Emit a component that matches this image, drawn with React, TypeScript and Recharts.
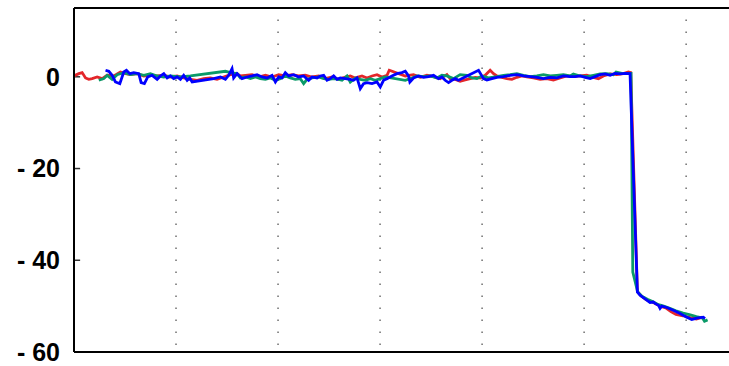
import { LineChart, Line, XAxis, YAxis, ReferenceLine } from "recharts"

// time (arbitrary units, grid every 100) vs. level
const redTrace: [number, number][] = [
  [0, 0.2], [4.7, 0.69], [8.0, 0.91], [11.3, -0.25], [14.5, -0.55], [17.8, -0.4], [22.7, -0.04], [27.6, -0.4],
  [32.5, 0.33], [39.0, 0.18], [45.5, 1.05], [50.4, 0.69], [55.3, 0.47], [61.9, 0.69], [68.4, 0.18], [74.9, 0.33],
  [81.5, 0.18], [88.0, 0.33], [94.5, -0.04], [101.1, 0.18], [107.5, -0.25], [114.1, -0.55], [120.7, -0.76],
  [127.1, -0.4], [133.7, -0.25], [140.2, -0.55], [146.7, -0.04], [153.3, 0.47], [159.8, 0.69], [163.1, 0.18],
  [168.0, 0.33], [174.5, 0.47], [181.0, -0.04], [187.6, 0.33], [194.1, -0.04], [200.6, 0.47], [207.1, 0.18],
  [213.7, 0.47], [220.2, 0.18], [226.7, 0.33], [233.3, -0.04], [239.8, 0.18], [246.3, -0.4], [252.9, -0.04],
  [259.3, -0.55], [265.9, -0.04], [270.8, 0.18], [275.7, -0.25], [282.3, 0.18], [287.2, -0.25], [292.1, 0.18],
  [297.0, 0.47], [301.9, -0.04], [306.8, 0.33], [309.0, 1.42], [324.7, 0.18], [332.8, 0.47], [339.4, -0.11],
  [345.9, 0.33], [352.4, 0.04], [358.9, -0.4], [365.5, 0.47], [368.7, -0.4], [373.6, -0.55], [378.5, -0.98],
  [383.4, -0.69], [388.3, -0.4], [393.2, -0.11], [398.1, -0.25], [403.0, 0.33], [407.9, 1.42], [411.2, 0.69],
  [414.5, 0.18], [419.4, -0.11], [424.3, -0.4], [429.2, -0.55], [434.1, -0.11], [439.0, 0.18], [443.9, -0.04],
  [450.3, -0.25], [456.9, -0.55], [463.4, -0.4], [469.9, -0.69], [476.5, -0.25], [483.0, 0.18], [489.5, 0.04],
  [496.1, 0.18], [502.6, 0.33], [509.1, -0.11], [514.0, -0.4], [518.9, 0.18], [525.5, 0.62], [532.0, 0.47],
  [538.5, 0.69], [543.4, 1.05], [545.7, 0.91],
  [552.2, -46.8], [556, -47.8], [561, -48.6], [566, -49.0], [571, -49.6], [576, -50.1], [580, -50.4],
  [585, -51.2], [590, -51.8], [597, -52.1], [604, -52.5], [610, -52.8], [616, -52.4],
]

const greenTrace: [number, number][] = [
  [24.3, -0.76], [29.2, -0.4], [32.5, 0.33], [37.4, -0.55], [42.3, 0.47], [48.8, 0.91], [55.3, 0.47], [61.9, 0.69],
  [68.4, 0.33], [74.9, 0.69], [81.5, 0.18], [88.0, -0.04], [94.5, 0.18], [104.3, -0.04], [114.1, 0.18],
  [148.4, 1.2], [153.3, 0.91], [159.8, 0.69], [163.1, -0.25], [168.0, -0.04], [172.9, -0.4], [177.8, -0.04],
  [182.7, -0.4], [187.6, -0.55], [192.5, -0.25], [197.4, -0.76], [202.2, -0.4], [207.1, 0.18], [212.0, -0.25],
  [216.9, -0.55], [221.8, -0.4], [225.1, -1.49], [228.4, -0.55], [233.3, -0.25], [239.8, -0.04], [244.7, -0.4],
  [249.6, -0.55], [254.5, -0.4], [259.3, -0.55], [262.7, -0.76], [267.6, 0.18], [270.8, -1.13], [275.7, -0.25],
  [280.6, -0.55], [285.5, -0.76], [290.4, -0.4], [295.3, -0.76], [300.2, -0.4], [305.1, -0.04],
  [324.7, -0.76], [331.2, -0.25], [336.1, 0.18], [342.6, 0.04], [349.2, 0.18], [355.7, -0.25], [360.6, 0.33],
  [365.5, 0.18], [372.0, -0.4], [378.5, 0.47], [385.1, 0.33], [390.0, -0.25], [394.9, -0.4], [399.8, 0.18],
  [406.3, -0.25], [414.5, 0.04], [421.0, 0.33], [427.5, 0.47], [434.1, 0.69], [440.5, 0.33], [447.1, 0.04],
  [453.7, 0.18], [460.1, 0.47], [466.7, 0.18], [473.2, 0.33], [479.7, 0.47], [486.3, 0.18], [489.5, 0.62],
  [496.1, 0.18], [502.6, 0.04], [509.1, 0.33], [515.7, 0.62], [522.2, 0.69], [528.7, 0.47], [531.3, 1.05],
  [536.9, 0.76], [541.8, 0.69], [545.0, 0.76], [546.0, 0.76],
  [547.7, -42.6], [552.5, -46.9], [557, -47.9], [562, -48.5], [567, -49.0], [572, -49.6], [578, -50.0],
  [584, -50.5], [590, -51.0], [597, -51.5], [604, -51.9], [610, -52.3], [616, -52.6], [618, -53.3], [621, -53.0],
]

const blueTrace: [number, number][] = [
  [30.9, 1.42], [34.1, 1.2], [37.4, 0.33], [40.6, -1.13], [44.9, -1.49], [48.8, 1.05], [51.4, 1.42], [54.7, 0.69],
  [58.6, 0.91], [63.5, 0.69], [65.8, -1.27], [69.0, -1.49], [72.3, -0.04], [76.6, 0.33], [81.5, -0.55],
  [84.7, 0.18], [88.0, 0.69], [91.3, -0.25], [94.5, 0.18], [97.7, -0.4], [101.1, -0.04], [104.3, -0.55],
  [107.5, 0.33], [110.9, -0.76], [113.4, -0.25], [115.8, -1.13],
  [136.9, -0.4], [143.5, -0.04], [148.4, -0.55], [151.6, 0.33], [154.9, 1.78], [156.5, -0.25], [159.8, 0.69],
  [164.7, -0.4], [169.6, -0.04], [174.5, 0.18], [179.4, 0.47], [184.3, -0.04], [189.2, -0.25], [194.1, 0.33],
  [197.4, -1.13], [200.6, -0.04], [203.9, -0.25], [207.1, 0.91], [210.4, 0.18], [215.3, 0.47], [220.2, -0.04],
  [225.1, 0.18], [230.0, -0.76], [233.3, -0.04], [238.2, -0.25], [241.4, 0.18], [244.7, 0.33], [248.0, -0.76],
  [251.2, -0.4], [254.5, 0.18], [257.8, -0.55], [261.0, -0.25], [265.9, -0.4], [270.8, -0.55], [274.0, -0.76],
  [277.4, -0.25], [280.6, -2.58], [283.8, -1.49], [287.2, -1.27], [292.1, -1.49], [297.0, -1.13], [300.2, -2.22],
  [303.4, -0.76], [306.8, -0.4], [311.6, 0.18], [316.5, 0.69], [321.4, 0.91], [324.7, 1.2], [327.9, 0.2],
  [329.2, -1.13], [332.8, -0.25], [337.7, 0.18], [342.6, -0.11], [347.5, 0.04], [352.4, 0.33], [357.3, -0.4],
  [360.6, -0.04], [363.8, -0.76], [367.1, -1.27], [370.4, -0.76], [373.6, -0.4], [376.9, -0.76],
  [396.5, 1.42], [401.4, -0.4], [404.7, -0.69], [409.6, -0.4], [414.5, -0.11], [421.0, 0.04], [427.5, 0.33],
  [434.1, 0.47], [440.5, 0.18], [447.1, 0.04], [453.7, -0.11], [460.1, -0.4], [466.7, -0.11], [473.2, -0.25],
  [479.7, 0.18], [486.3, 0.04], [491.2, 0.04], [496.1, 0.18], [501.0, -0.11], [505.9, -0.4], [510.8, 0.04],
  [515.7, 0.47], [520.6, 0.62], [525.5, 0.33], [530.3, 0.76], [535.3, 0.62], [540.1, 0.76], [545.0, 0.69],
  [552.2, -46.9], [554.8, -47.6], [559.7, -48.4], [564.6, -49.2], [567.9, -49.1], [569.5, -49.4], [572.8, -49.8],
  [574.4, -50.5], [576.1, -50.0], [581.0, -50.3], [587.4, -50.9], [594.0, -51.6], [600.6, -52.4], [605.5, -52.9],
  [610.4, -52.6], [616.8, -52.4], [618.5, -52.7],
]

const xGridTicks = [100, 200, 300, 400, 500, 600]
const yTicks = [0, -20, -40, -60]
const innerTicks = [0, -20, -40]
const TICK_LEN = 6
const Y_MIN = -60
const Y_MAX = 15

const toRows = (pts: [number, number][]) => pts.map(([t, v]) => ({ t, v }))

const formatLevel = (v: number) => (v < 0 ? `- ${-v}` : `${v}`)

export default function App() {
  return (
    <div style={{ position: "absolute", left: 0, top: 0, width: 729, height: 366, background: "#fff" }}>
      <LineChart width={729} height={366} margin={{ top: 8, right: 0, bottom: 14, left: 0 }}>
        <XAxis type="number" dataKey="t" domain={[0, 642]} allowDataOverflow hide />
        <YAxis
          type="number"
          domain={[Y_MIN, Y_MAX]}
          ticks={yTicks}
          allowDataOverflow
          width={74}
          tickLine={false}
          tickMargin={8}
          tickFormatter={formatLevel}
          tick={{ fill: "#000", fontSize: 25, fontWeight: "bold", fontFamily: "Liberation Sans, Arial, sans-serif" }}
          axisLine={{ stroke: "#000", strokeWidth: 2 }}
        />
        {xGridTicks.map((t) => (
          <ReferenceLine
            key={t}
            x={t}
            stroke="#777"
            strokeWidth={1.6}
            strokeDasharray="1.6 10.4"
            strokeDashoffset={5}
          />
        ))}
        <ReferenceLine y={Y_MAX} stroke="#000" strokeWidth={2} />
        <ReferenceLine y={Y_MIN} stroke="#000" strokeWidth={2} />
        {/* short inward ticks on the level axis */}
        {innerTicks.map((v) => (
          <Line
            key={`tick${v}`}
            data={[{ t: 0, v }, { t: TICK_LEN, v }]}
            dataKey="v"
            stroke="#333"
            strokeWidth={1.5}
            dot={false}
            activeDot={false}
            isAnimationActive={false}
          />
        ))}
        <Line data={toRows(redTrace)} dataKey="v" type="linear" stroke="#e3262a" strokeWidth={2.8} dot={false} isAnimationActive={false} />
        <Line data={toRows(greenTrace)} dataKey="v" type="linear" stroke="#0a9a68" strokeWidth={2.8} dot={false} isAnimationActive={false} />
        <Line data={toRows(blueTrace)} dataKey="v" type="linear" stroke="#0000ff" strokeWidth={2.8} dot={false} isAnimationActive={false} />
      </LineChart>
    </div>
  )
}
